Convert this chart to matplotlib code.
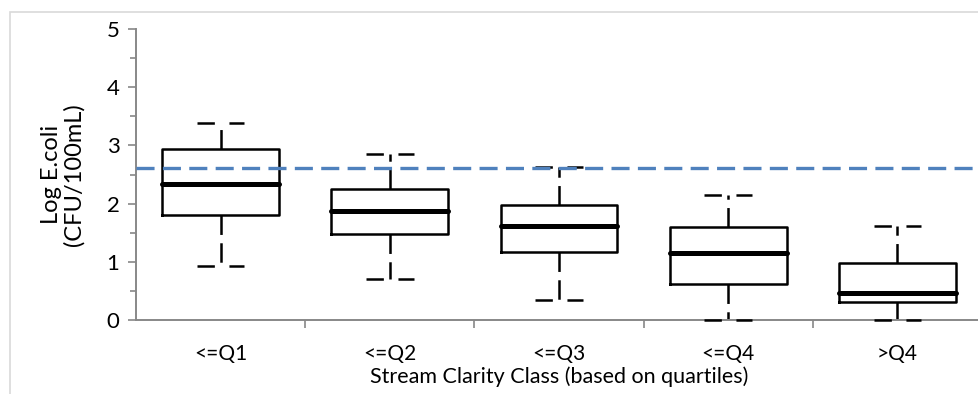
import matplotlib
matplotlib.use('Agg')
import matplotlib.pyplot as plt
from matplotlib.patches import Rectangle
from matplotlib.ticker import MultipleLocator

plt.rcParams['font.family'] = ['Lato', 'DejaVu Sans']
plt.rcParams['lines.scale_dashes'] = False

# Box plot summary values (log E.coli, CFU/100mL)
categories = ['<=Q1', '<=Q2', '<=Q3', '<=Q4', '>Q4']
whisker_low = [0.93, 0.70, 0.34, 0.0, 0.0]
q1 = [1.80, 1.47, 1.16, 0.62, 0.30]
median = [2.34, 1.87, 1.61, 1.15, 0.47]
q3 = [2.94, 2.25, 1.98, 1.59, 0.98]
whisker_high = [3.38, 2.85, 2.63, 2.15, 1.62]
guideline = 2.61

stats = []
for i in range(len(categories)):
    stats.append({'label': categories[i], 'whislo': whisker_low[i], 'q1': q1[i],
                  'med': median[i], 'q3': q3[i], 'whishi': whisker_high[i],
                  'fliers': []})

fig = plt.figure(figsize=(9.79, 3.94), dpi=100)
ax = fig.add_axes([0.139, 0.188, 0.864, 0.738])

# Chart area border
fig.patches.append(Rectangle((0.010, -0.05), 1.1, 1.02, transform=fig.transFigure,
                             fill=False, edgecolor='#d9d9d9', linewidth=1.2))

ax.bxp(stats, positions=range(1, len(categories) + 1), widths=0.69,
       showfliers=False,
       boxprops=dict(color='black', linewidth=1.8),
       medianprops=dict(color='black', linewidth=3.6, solid_capstyle='round'),
       whiskerprops=dict(color='black', linewidth=1.8, linestyle=(0, (14, 6))),
       capprops=dict(color='black', linewidth=1.8, linestyle=(0, (12.5, 10.5)),
                     zorder=3, clip_on=False),
       capwidths=0.28)

ax.axhline(guideline, color='#4f81bd', linewidth=2.4, linestyle=(0, (13, 6)),
           zorder=5)

ax.set_xlim(0.5, 5.5)
ax.set_ylim(0, 5)
ax.yaxis.set_major_locator(MultipleLocator(1))
ax.yaxis.set_minor_locator(MultipleLocator(0.5))
ax.set_xticks([1.5, 2.5, 3.5, 4.5], minor=False)
ax.set_xticklabels([])
ax.set_xticks(range(1, len(categories) + 1), minor=True)
ax.set_xticklabels(categories, minor=True)
ax.tick_params(axis='x', which='major', length=6, width=1.2, color='#888888')
ax.tick_params(axis='x', which='minor', length=0, pad=17, labelsize=15)
ax.tick_params(axis='y', which='major', length=6, width=1.2, color='#888888',
               labelsize=16, pad=6)
ax.tick_params(axis='y', which='minor', length=4, width=1.2, color='#888888')

for s in ['top', 'right']:
    ax.spines[s].set_visible(False)
for s in ['left', 'bottom']:
    ax.spines[s].set_color('#888888')
    ax.spines[s].set_linewidth(1.4)

ax.set_ylabel('Log E.coli\n(CFU/100mL)', fontsize=17, labelpad=16, linespacing=1.05)
ax.set_xlabel('Stream Clarity Class (based on quartiles)', fontsize=15.5, labelpad=2)

fig.savefig('out.png', dpi=100)
